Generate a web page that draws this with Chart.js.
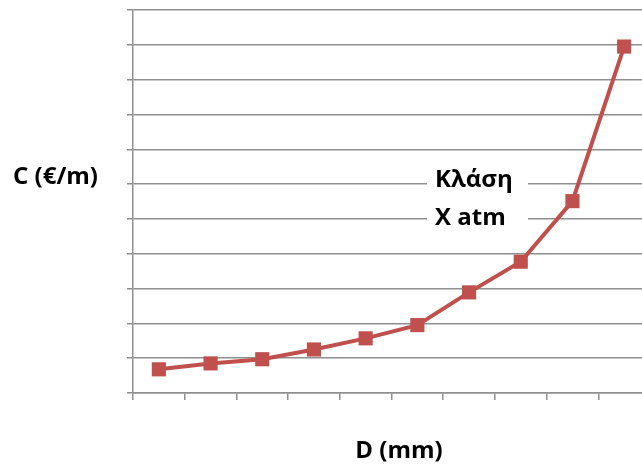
<!DOCTYPE html>
<html>
<head>
<meta charset="utf-8">
<script src="https://cdn.jsdelivr.net/npm/chart.js@4/dist/chart.umd.min.js"></script>
<style>
  html, body { margin: 0; padding: 0; background: #fff; overflow: hidden; }
  #wrap { position: relative; width: 660px; height: 467px; }
</style>
</head>
<body>
<div id="wrap"><canvas id="chart" width="660" height="467"></canvas></div>
<script>
// diameters (unlabelled in the picture) and cost per metre
const diameters = ['1', '2', '3', '4', '5', '6', '7', '8', '9', '10'];
const costs = [0.68, 0.85, 0.97, 1.25, 1.57, 1.95, 2.89, 3.77, 5.51, 9.95];
const yTicks = [0, 1, 2, 3, 4, 5, 6, 7, 8, 9, 10, 11];

const yTitle = 'C (€/m)';
const xTitle = 'D (mm)';
const noteLines = ['Κλάση', 'X atm'];

const GRID = '#8f8f8f';
const RED = '#C0504D';

// draws the axis titles and the boxed note, since Chart.js would rotate the y title
const textPlugin = {
  id: 'textPlugin',
  afterDraw(chart) {
    const ctx = chart.ctx;
    ctx.save();
    ctx.fillStyle = '#000';
    ctx.font = 'bold 24px "Open Sans", sans-serif';
    ctx.textBaseline = 'alphabetic';
    ctx.textAlign = 'left';
    ctx.fillText(yTitle, 13, 184);
    ctx.textAlign = 'center';
    ctx.fillText(xTitle, 399, 458);

    // white box behind the note, cutting the gridlines
    ctx.fillStyle = '#fff';
    ctx.fillRect(427, 165, 101, 66);
    ctx.fillStyle = '#000';
    ctx.textAlign = 'left';
    ctx.fillText(noteLines[0], 435, 187);
    ctx.fillText(noteLines[1], 435, 225);
    ctx.restore();
  }
};

new Chart(document.getElementById('chart'), {
  type: 'line',
  data: {
    labels: diameters,
    datasets: [{
      data: costs,
      borderColor: RED,
      backgroundColor: RED,
      borderWidth: 4,
      pointStyle: 'rect',
      pointRadius: 10,
      pointBorderWidth: 0,
      tension: 0
    }]
  },
  options: {
    responsive: false,
    animation: false,
    layout: { padding: { left: 127, right: 10, top: 10, bottom: 67 } },
    plugins: { legend: { display: false }, tooltip: { enabled: false } },
    scales: {
      x: {
        offset: true,
        grid: { offset: true, drawOnChartArea: false, color: GRID, lineWidth: 1.5, tickLength: 7 },
        border: { color: GRID, width: 1.5 },
        ticks: { display: false }
      },
      y: {
        min: yTicks[0],
        max: yTicks[yTicks.length - 1],
        afterBuildTicks(scale) { scale.ticks = yTicks.map(v => ({ value: v })); },
        grid: { color: GRID, lineWidth: 1.5, tickLength: 6 },
        border: { color: GRID, width: 1.5 },
        ticks: { display: false }
      }
    }
  },
  plugins: [textPlugin]
});
</script>
</body>
</html>
